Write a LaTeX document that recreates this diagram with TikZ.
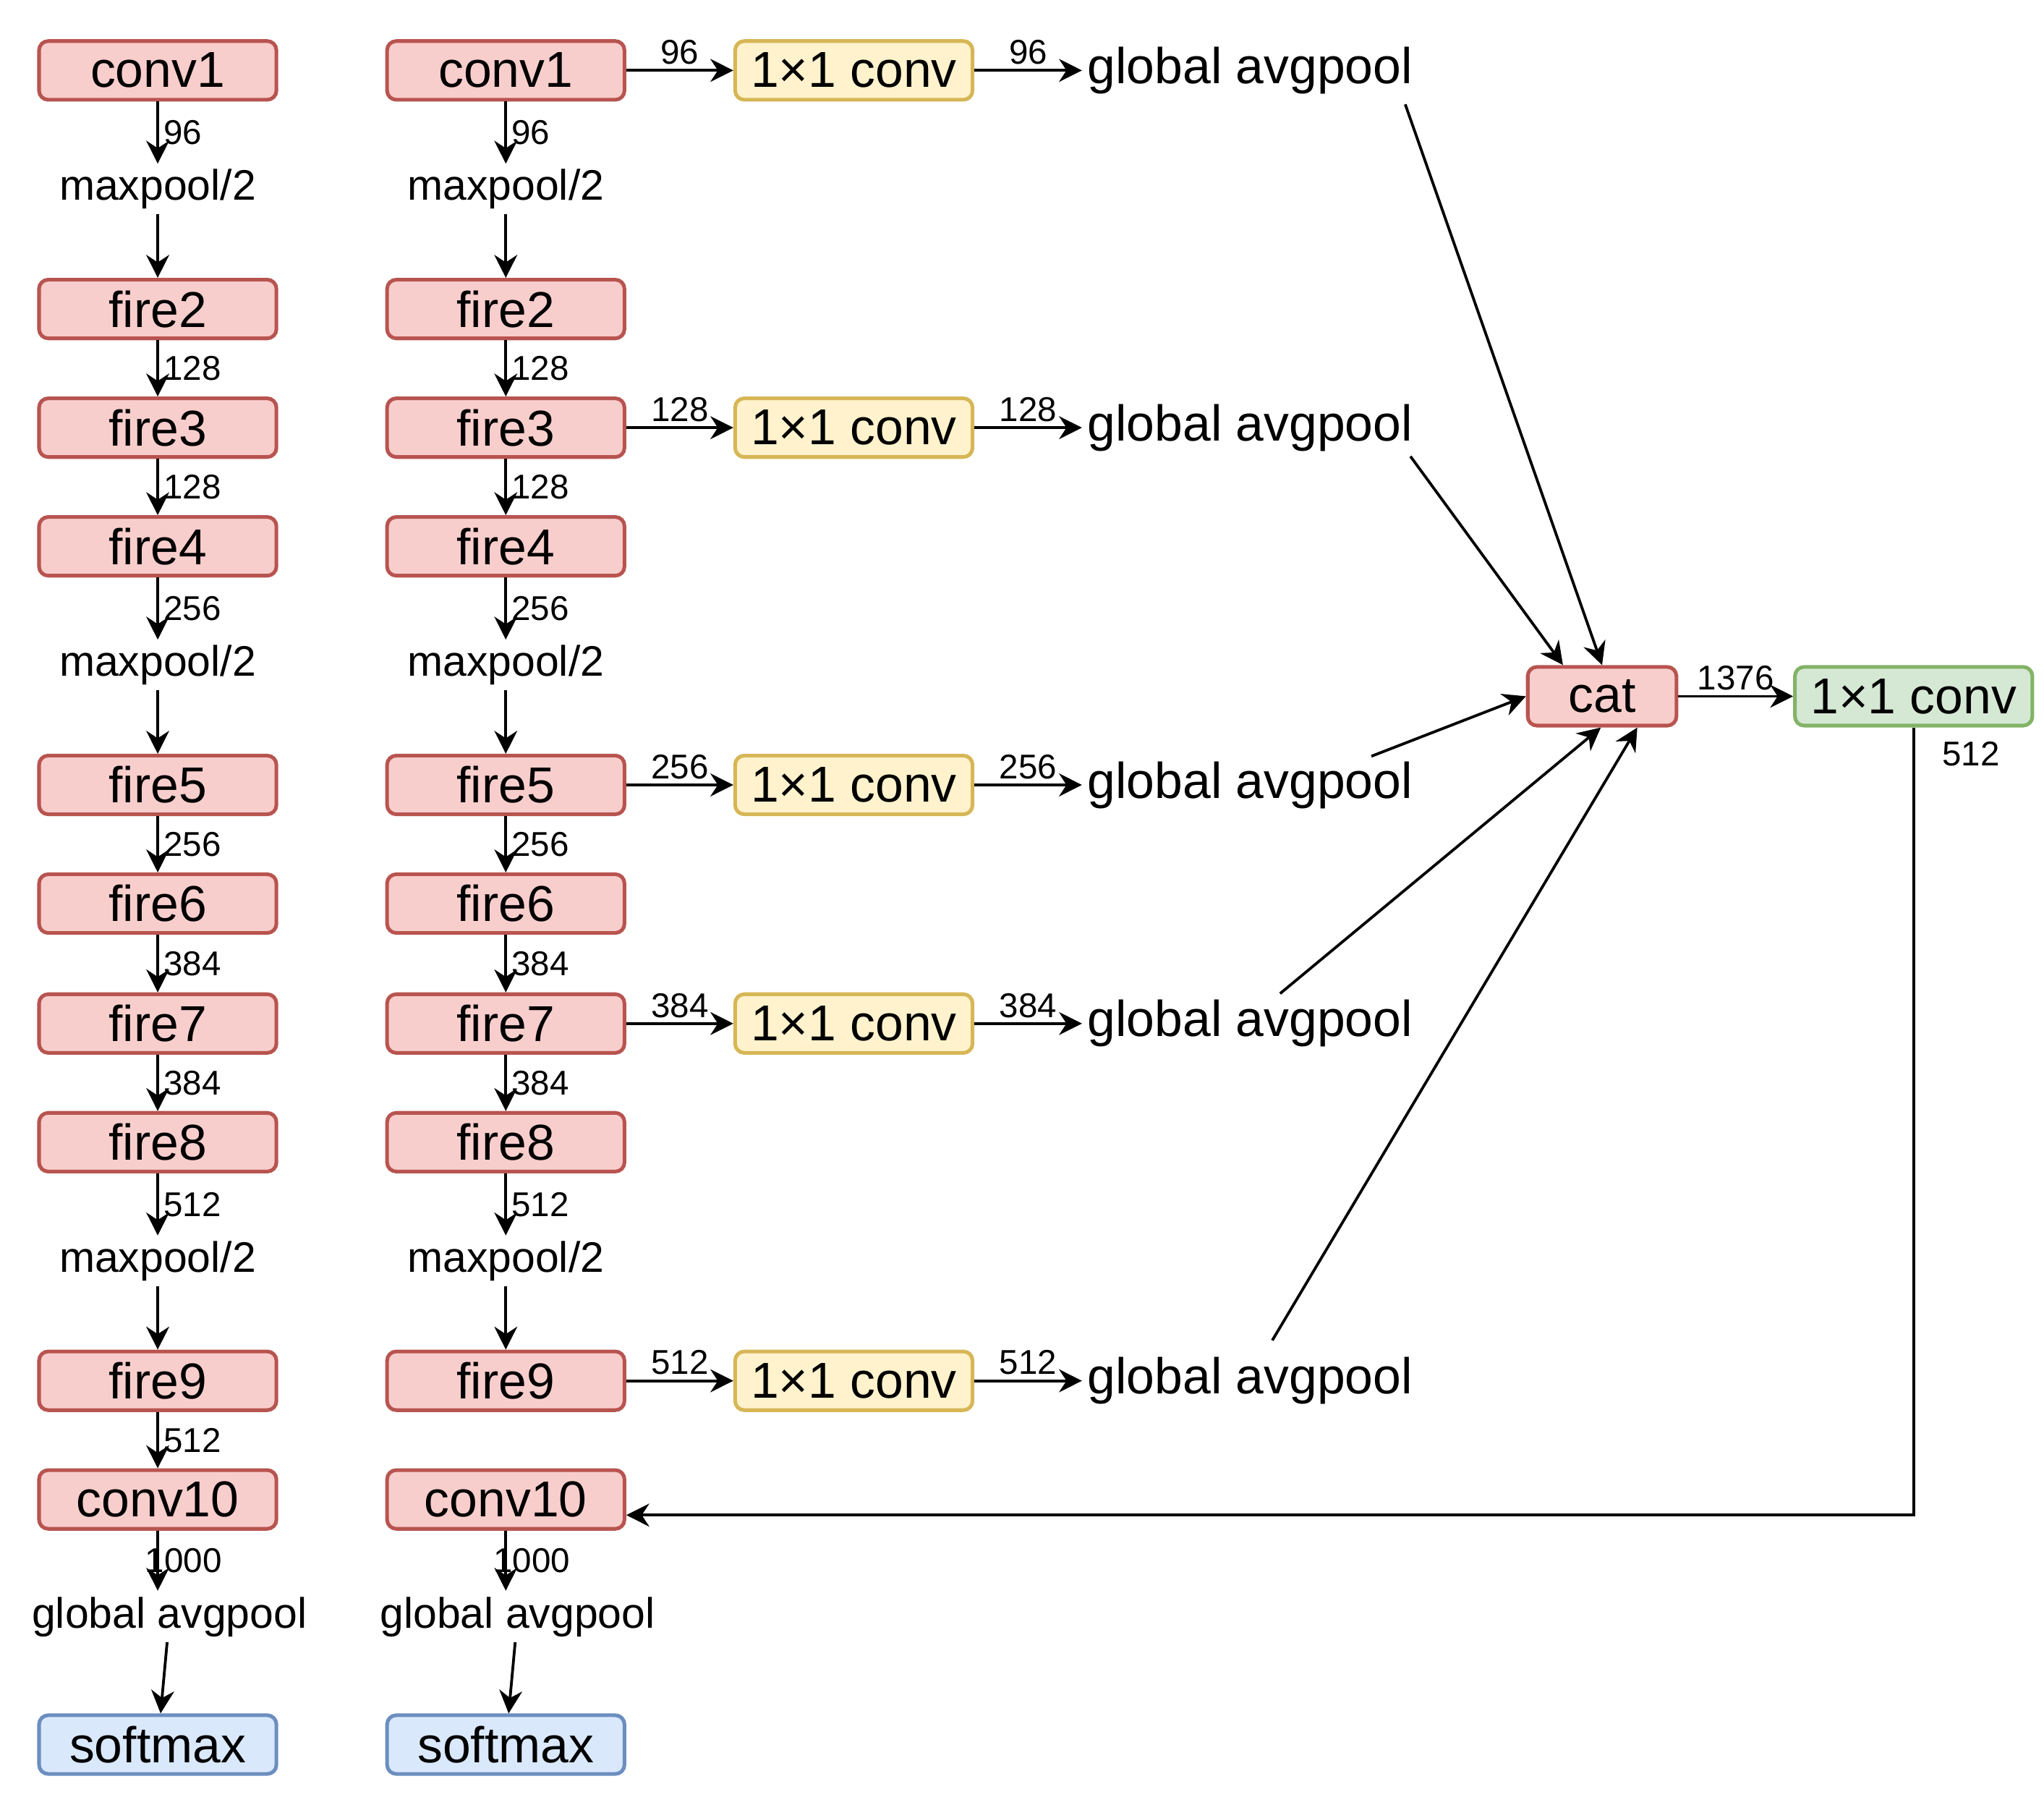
\documentclass[tikz,border=0pt]{standalone}
\usepackage{fontspec}
\setmainfont{Liberation Sans}
\usetikzlibrary{arrows.meta}
\definecolor{redfill}{HTML}{F8CECC}\definecolor{reddraw}{HTML}{B85450}
\definecolor{yelfill}{HTML}{FFF2CC}\definecolor{yeldraw}{HTML}{D6B656}
\definecolor{grnfill}{HTML}{D5E8D4}\definecolor{grndraw}{HTML}{82B366}
\definecolor{blufill}{HTML}{DAE8FC}\definecolor{bludraw}{HTML}{6C8EBF}
\begin{document}
\begin{tikzpicture}[x=0.01cm, y=-0.01cm,
    block/.style={rectangle, draw=reddraw, fill=redfill, thick, rounded corners=2pt, minimum width=1.82cm, minimum height=0.45cm, inner sep=0pt, font=\fontsize{11}{12}\selectfont},
    conv/.style={block, draw=yeldraw, fill=yelfill},
    head/.style={block, draw=grndraw, fill=grnfill},
    soft/.style={block, draw=bludraw, fill=blufill},
    op/.style={inner sep=1pt, font=\fontsize{9.3}{10}\selectfont},
    num/.style={font=\fontsize{7.5}{8}\selectfont, inner sep=1pt},
    arrow/.style={-{Stealth[length=5pt,width=5pt]}, semithick}
]
    \useasboundingbox (0,0) rectangle (1568,1384);

    % two SqueezeNet columns
    \foreach \c/\x in {a/121, b/388} {
        \node[block] (\c1) at (\x,54) {conv1};
        \node[op] (\c m1) at (\x,145) {maxpool/2};
        \node[block] (\c2) at (\x,237) {fire2};
        \node[block] (\c3) at (\x,328) {fire3};
        \node[block] (\c4) at (\x,419) {fire4};
        \node[op] (\c m2) at (\x,510) {maxpool/2};
        \node[block] (\c5) at (\x,602) {fire5};
        \node[block] (\c6) at (\x,693) {fire6};
        \node[block] (\c7) at (\x,785) {fire7};
        \node[block] (\c8) at (\x,876) {fire8};
        \node[op] (\c m3) at (\x,967) {maxpool/2};
        \node[block] (\c9) at (\x,1059) {fire9};
        \node[block] (\c10) at (\x,1150) {conv10};
        \node[op] (\c g) at (\x+9,1240) {global avgpool};
        \node[soft] (\c s) at (\x,1338) {softmax};

        \foreach \u/\v/\n in {1/m1/96, 2/3/128, 3/4/128, 4/m2/256, 5/6/256, 6/7/384, 7/8/384, 8/m3/512}
            \draw[arrow] (\c\u) -- node[num, right] {\n} (\c\v);
        \foreach \u/\v in {m1/2, m2/5, m3/9, g/s}
            \draw[arrow] (\c\u) -- (\c\v);
        \draw[arrow] (\c10) -- node[num, right, xshift=-4pt] {1000} (\x,1220);
    }
    \draw[arrow] (a9) -- node[num, right] {512} (a10);

    % side branches
    \foreach \r/\n in {1/96, 3/128, 5/256, 7/384, 9/512} {
        \node[conv] (k\r) at (655,0 |- b\r) {1×1 conv};
        \node[op, anchor=west, font=\fontsize{11}{12}\selectfont] (p\r) at (830,0 |- b\r) {global avgpool};
        \draw[arrow] (b\r) -- node[num, above] {\n} (k\r);
        \draw[arrow] (k\r) -- node[num, above] {\n} (p\r);
    }

    \node[block, minimum width=1.14cm] (cat) at (1229,534) {cat};
    \node[head] (head) at (1468,534) {1×1 conv};
    \coordinate (turn) at (1468,1162);

    \draw[arrow] (1078,80) -- (cat.north);
    \draw[arrow] (1082,350) -- (1199,510);
    \draw[arrow] (1052,580) -- (cat.west);
    \draw[arrow] (982,762) -- (1228,558);
    \draw[arrow] (976,1028) -- (1256,558);

    \draw[arrow] (cat) -- node[num, above] {1376} (head);
    \draw[arrow] (head.south) -- (turn) -- (b10.east |- turn);
    \node[num] at (1512,578) {512};
\end{tikzpicture}
\end{document}
